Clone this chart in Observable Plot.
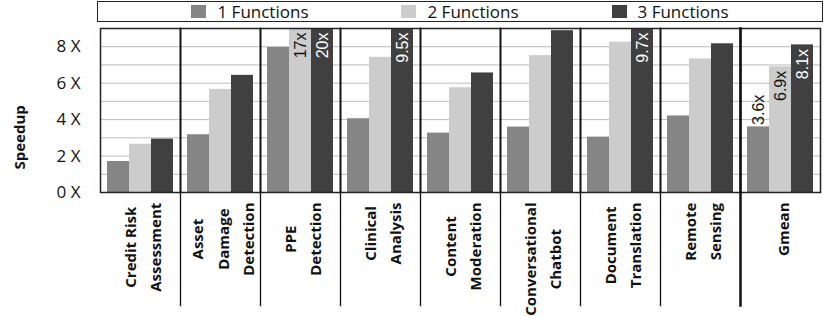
<!DOCTYPE html>
<html><head><meta charset="utf-8">
<script src="https://cdn.jsdelivr.net/npm/d3@7"></script>
<script src="https://cdn.jsdelivr.net/npm/@observablehq/plot@0.6"></script>
<style>
body{margin:0;background:#fff;font-family:"Open Sans",sans-serif;}
#legend{position:absolute;left:97px;top:1px;width:726px;height:21px;box-sizing:border-box;border:1.5px solid #222;display:flex;justify-content:center;align-items:center;gap:93px;font-size:17px;line-height:1;color:#111}
.item{display:flex;align-items:center}
.sw{width:15px;height:13px;margin-right:11px}
#chart{position:absolute;left:0;top:22px}
</style></head><body>
<div id="legend"></div><div id="chart"></div>
<script>
const categories = ["Credit Risk\nAssessment", "Asset\nDamage\nDetection", "PPE\nDetection", "Clinical\nAnalysis", "Content\nModeration", "Conversational\nChatbot", "Document\nTranslation", "Remote\nSensing", "Gmean"];
const seriesNames = ["1 Functions", "2 Functions", "3 Functions"];
const oneFunction = [1.70, 3.17, 7.96, 4.05, 3.26, 3.59, 3.04, 4.20, 3.6];
const twoFunctions = [2.65, 5.66, 17, 7.42, 5.75, 7.51, 8.25, 7.33, 6.9];
const threeFunctions = [2.93, 6.43, 20, 9.5, 6.56, 8.88, 9.7, 8.16, 8.1];
const seriesColors = ["#858585", "#cccccc", "#404040"];
const yTicks = [0, 2, 4, 6, 8];
const gridTicks = [1, 2, 3, 4, 5, 6, 7, 8];
const yMax = 9;
const summaryCategory = "Gmean";

const seriesValues = [oneFunction, twoFunctions, threeFunctions];
const rows = categories.flatMap((c, i) => seriesValues.map((arr, j) => ({cat: c, series: seriesNames[j], value: arr[i]})));
const labelRows = rows.filter(d => d.value > yMax || d.cat === summaryCategory);
const fmt = d => `${d.value}x`;
const valueFont = '"Liberation Sans", Arial, sans-serif';

// legend
const legend = document.getElementById("legend");
seriesNames.forEach((s, i) => {
  const it = document.createElement("div"); it.className = "item";
  const sw = document.createElement("div"); sw.className = "sw"; sw.style.background = seriesColors[i];
  const tx = document.createElement("span"); tx.textContent = s;
  it.append(sw, tx); legend.append(it);
});

const plot = Plot.plot({
  width: 830, height: 294,
  marginTop: 6, marginBottom: 124, marginLeft: 97, marginRight: 7,
  style: {fontFamily: '"Open Sans", sans-serif', fontSize: "15px", color: "#111", background: "white"},
  fx: {domain: categories, padding: 0, axis: null},
  x: {domain: seriesNames, paddingInner: 0, paddingOuter: 0.28, axis: null},
  y: {domain: [0, yMax], clamp: true, axis: null},
  color: {domain: seriesNames, range: seriesColors},
  marks: [
    Plot.gridY(gridTicks, {stroke: "#bcbcbc", strokeOpacity: 1, strokeWidth: 1}),
    Plot.barY(rows, {fx: "cat", x: "series", y: "value", fill: "series"}),
    Plot.frame({stroke: "#222", strokeWidth: 1.5}),
    ...categories.slice(1).map(c => Plot.frame({anchor: "left", fx: () => c, insetBottom: -113, stroke: "#111", strokeWidth: c === summaryCategory ? 2.5 : 1.3})),
    Plot.axisY({ticks: yTicks, tickFormat: d => `${d} X`, tickSize: 0, tickPadding: 20, fontSize: 17, label: null}),
    Plot.text(["Speedup"], {fx: () => categories[0], frameAnchor: "left", text: d => d, rotate: -90, dx: -80, dy: 59, fontWeight: "bold", fontSize: 15}),
    Plot.text(categories, {fx: d => d, text: d => d, frameAnchor: "bottom", rotate: -90, textAnchor: "middle", lineAnchor: "middle", lineHeight: 1.67, dy: 10, fontWeight: "bold", fontSize: 15}),
    Plot.text(labelRows.filter(d => d.series === seriesNames[0]), {fx: "cat", x: "series", y: "value", text: fmt, rotate: -90, textAnchor: "start", dy: -2, fill: "#111", fontFamily: valueFont, fontSize: 16}),
    Plot.text(labelRows.filter(d => d.series === seriesNames[1]), {fx: "cat", x: "series", y: "value", text: fmt, rotate: -90, textAnchor: "end", dy: 4, fill: "#111", fontFamily: valueFont, fontSize: 16}),
    Plot.text(labelRows.filter(d => d.series === seriesNames[2]), {fx: "cat", x: "series", y: "value", text: fmt, rotate: -90, textAnchor: "end", dy: 4, fill: "white", fontFamily: valueFont, fontSize: 16})
  ]
});
document.getElementById("chart").append(plot);
// top-align each rotated category label block (lines centred on each other, like the original)
const catText = new Set(categories.map(c => c.replace(/\n/g, "")));
plot.querySelectorAll("text").forEach(t => {
  if (!catText.has(t.textContent)) return;
  const w = t.getBBox().width;
  t.setAttribute("transform", (t.getAttribute("transform") || "") + ` translate(${-w / 2},0)`);
});
</script></body></html>
